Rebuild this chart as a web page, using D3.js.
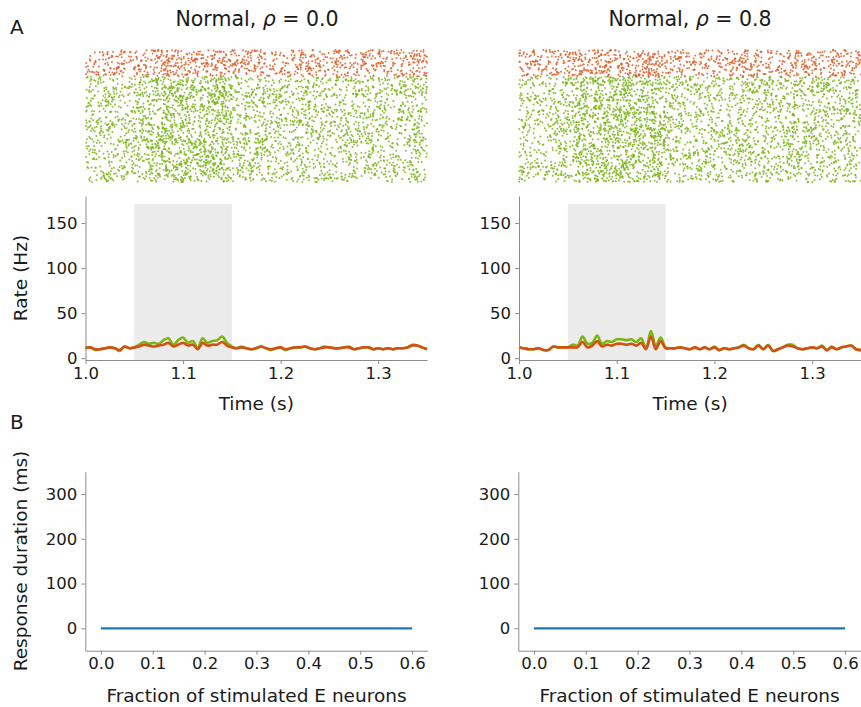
<!DOCTYPE html>
<html>
<head>
<meta charset="utf-8">
<script src="https://cdn.jsdelivr.net/npm/d3@7/dist/d3.min.js"></script>
<style>
  body { margin: 0; background: #fff; }
  text { font-family: "DejaVu Sans", sans-serif; fill: #1a1a1a; }
  .axis .domain, .axis .tick line { stroke: #8c8c8c; }
  .axis text { font-size: 16.5px; fill: #1a1a1a; }
</style>
</head>
<body>
<div id="chart"></div>
<script>
const rateStart = 1.0, rateStep = 0.005;
const rateE_rho00 = [12,12,9,10,11,12,11,8,13,11,12,15,18,16,17,16,20,22,15,20,23,17,19,11,22,17,19,20,24,17,13,11,13,11,10,11,13,11,9,11,12,9,11,12,12,13,11,10,11,13,12,11,11,12,13,10,11,12,12,10,11,10,11,10,11,11,12,15,14,12,10];
const rateI_rho00 = [11,12,10,10,11,12,11,9,13,11,12,13,15,14,13,14,15,17,13,15,17,14,15,10,17,14,15,15,18,14,12,11,12,11,10,11,13,11,10,11,12,10,11,12,12,13,11,10,11,12,12,11,11,12,12,10,11,12,12,10,11,10,11,10,11,11,12,14,14,12,10];
const rateE_rho08 = [12,11,10,10,11,9,9,13,12,12,12,15,14,24,16,17,25,16,19,18,21,21,20,21,18,22,11,30,14,23,12,11,11,12,11,10,12,10,12,10,13,9,11,10,11,12,15,11,10,15,10,15,8,10,12,15,15,11,10,11,12,11,14,9,13,10,12,13,14,10,9];
const rateI_rho08 = [12,11,10,10,11,9,9,13,12,12,12,12,12,18,12,14,19,13,15,14,16,16,15,16,14,17,10,24,10,19,11,11,11,12,11,10,12,10,12,10,12,9,11,10,11,12,14,11,10,14,10,14,8,10,12,14,13,11,10,11,12,11,13,9,12,10,12,13,14,10,9];

const rhoLabels = ["0.0", "0.8"];
const stimWindow = [1.05, 1.15];
const rateTicksX = [1.0, 1.1, 1.2, 1.3];
const rateTicksY = [0, 50, 100, 150];

// panel B: response duration vs stimulated fraction
const fractions = [0, 0.1, 0.2, 0.3, 0.4, 0.5, 0.6];
const duration_rho00 = [0, 0, 0, 0, 0, 0, 0];
const duration_rho08 = [0, 0, 0, 0, 0, 0, 0];
const fracTicks = [0, 0.1, 0.2, 0.3, 0.4, 0.5, 0.6];
const durTicks = [0, 100, 200, 300];

// spike counts shown in each raster (E / I)
const spikeCountsE = [3300, 3400];
const spikeCountsI = [880, 900];

const panels = [
  { rho: rhoLabels[0], rateE: rateE_rho00, rateI: rateI_rho00, dur: duration_rho00, x0: 85.5, x1: 427, bx0: 85.3, bx1: 427.7, cx: 257 },
  { rho: rhoLabels[1], rateE: rateE_rho08, rateI: rateI_rho08, dur: duration_rho08, x0: 519, x1: 861, bx0: 518.3, bx1: 860.7, cx: 690 }
];

const colE = "#7ab611", colI = "#d64f12";
const dotE = "#7db51a", dotI = "#d9602a";

const W = 861, H = 707;
const svg = d3.select("#chart").append("svg").attr("width", W).attr("height", H);

svg.append("text").attr("x", 10).attr("y", 34).style("font-size", "20px").text("A");
svg.append("text").attr("x", 10).attr("y", 429).style("font-size", "20px").text("B");

// spikes are spread by a quadratic Weyl sequence, with time density following the read rate trace
function spikeTimes(rate, n, offset) {
  const times = rate.map((_, i) => rateStart + i * rateStep);
  const cum = [0];
  for (let i = 1; i < rate.length; i++) cum.push(cum[i - 1] + (rate[i - 1] + rate[i]) / 2);
  const total = cum[cum.length - 1];
  const a1 = 0.7548776662466927, a2 = 0.4142135623730951, a3 = 0.7320508075688772;
  const frac = x => x - Math.floor(x);
  const out = [];
  for (let k = 1; k <= n; k++) {
    const u = frac(offset + k * k * a2 + k * a1) * total;
    const v = frac(offset * 0.37 + k * k * a3 + k * a2);
    const j = Math.max(1, d3.bisectLeft(cum, u));
    const f = (u - cum[j - 1]) / (cum[j] - cum[j - 1] || 1);
    out.push({ t: times[j - 1] + f * rateStep, v });
  }
  return out;
}

panels.forEach((p, pi) => {
  const title = svg.append("text").attr("x", p.cx).attr("y", 26).attr("text-anchor", "middle")
    .style("font-size", "20.5px");
  title.append("tspan").text("Normal, ");
  title.append("tspan").style("font-style", "italic").text("\u03c1");
  title.append("tspan").text(" = " + p.rho);

  // raster
  const tx = d3.scaleLinear().domain([1.0, 1.35]).range([p.x0, p.x1]);
  const ny = d3.scaleLinear().domain([0, 1000]).range([182, 50]);
  const g = svg.append("g");
  g.selectAll(".e").data(spikeTimes(p.rateE, spikeCountsE[pi], 0.13 + pi * 0.29)).enter()
    .append("circle").attr("cx", d => tx(d.t)).attr("cy", d => ny(d.v * 800))
    .attr("r", 1.0).attr("fill", dotE).attr("opacity", 0.85);
  g.selectAll(".i").data(spikeTimes(p.rateI, spikeCountsI[pi], 0.41 + pi * 0.17)).enter()
    .append("circle").attr("cx", d => tx(d.t)).attr("cy", d => ny(800 + d.v * 200))
    .attr("r", 1.0).attr("fill", dotI).attr("opacity", 0.85);

  // rate plot
  const ry = d3.scaleLinear().domain([-2, 180]).range([360, 196]);
  const rg = svg.append("g");
  rg.append("rect").attr("x", tx(stimWindow[0])).attr("width", tx(stimWindow[1]) - tx(stimWindow[0]))
    .attr("y", ry(171)).attr("height", ry(-2) - ry(171)).attr("fill", "#ebebeb");
  const line = d3.line().x((d, i) => tx(rateStart + i * rateStep)).y(d => ry(d)).curve(d3.curveCatmullRom);
  rg.append("path").attr("d", line(p.rateE)).attr("fill", "none").attr("stroke", colE).attr("stroke-width", 2.6);
  rg.append("path").attr("d", line(p.rateI)).attr("fill", "none").attr("stroke", colI).attr("stroke-width", 2.6);
  rg.append("g").attr("class", "axis").attr("transform", "translate(0,360)")
    .call(d3.axisBottom(tx).tickValues(rateTicksX).tickFormat(d3.format(".1f")).tickSizeInner(4).tickSizeOuter(0).tickPadding(3));
  rg.append("g").attr("class", "axis").attr("transform", `translate(${p.x0},0)`)
    .call(d3.axisLeft(ry).tickValues(rateTicksY).tickSizeInner(4).tickSizeOuter(0).tickPadding(4));
  rg.append("text").attr("x", (p.x0 + p.x1) / 2).attr("y", 410).attr("text-anchor", "middle")
    .style("font-size", "18.5px").text("Time (s)");

  // response duration plot
  const bx = d3.scaleLinear().domain([-0.03, 0.63]).range([p.bx0, p.bx1]);
  const by = d3.scaleLinear().domain([-50, 350]).range([650.7, 471.7]);
  const bg = svg.append("g");
  bg.append("path").datum(p.dur).attr("fill", "none").attr("stroke", "#1f77b4").attr("stroke-width", 2.2)
    .attr("d", d3.line().x((d, i) => bx(fractions[i])).y(d => by(d)));
  bg.append("g").attr("class", "axis").attr("transform", "translate(0,650.7)")
    .call(d3.axisBottom(bx).tickValues(fracTicks).tickFormat(d3.format(".1f")).tickSizeInner(4).tickSizeOuter(0).tickPadding(3));
  bg.append("g").attr("class", "axis").attr("transform", `translate(${p.bx0},0)`)
    .call(d3.axisLeft(by).tickValues(durTicks).tickSizeInner(4).tickSizeOuter(0).tickPadding(4));
  bg.append("text").attr("x", (p.bx0 + p.bx1) / 2).attr("y", 702).attr("text-anchor", "middle")
    .style("font-size", "18.5px").text("Fraction of stimulated E neurons");
});

svg.append("text").attr("transform", "translate(27,278) rotate(-90)").attr("text-anchor", "middle")
  .style("font-size", "18.5px").text("Rate (Hz)");
svg.append("text").attr("transform", "translate(27,561) rotate(-90)").attr("text-anchor", "middle")
  .style("font-size", "18.5px").text("Response duration (ms)");
</script>
</body>
</html>
